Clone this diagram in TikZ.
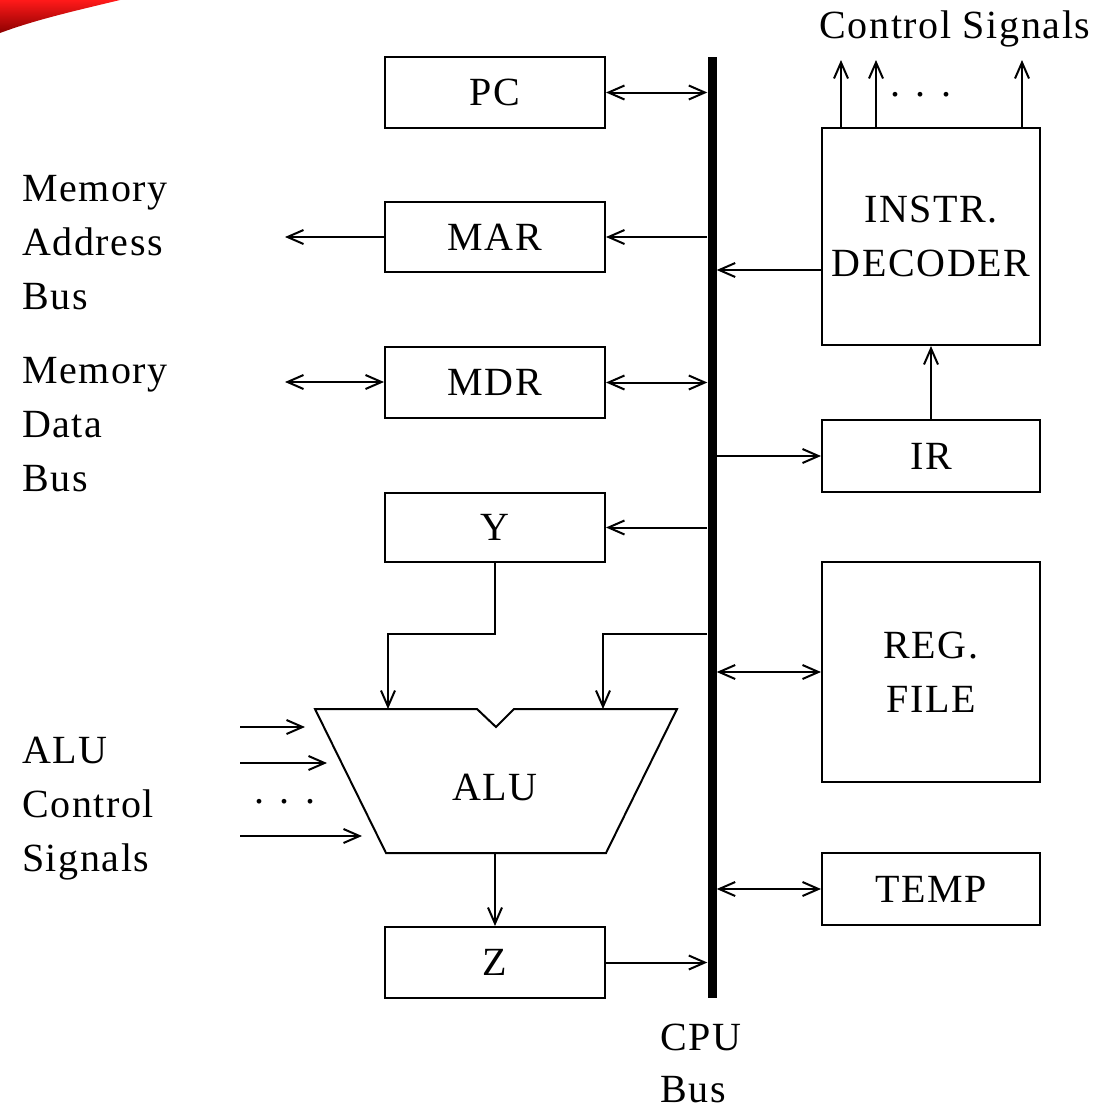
\documentclass[tikz,border=0pt]{standalone}
\usepackage{fontspec}
\setmainfont{Liberation Serif}[LetterSpace=4]
\usetikzlibrary{arrows.meta}
\begin{document}
\begin{tikzpicture}[x=1pt,y=-1pt,
  txt/.style={font=\fontsize{40}{54}\selectfont, inner sep=0pt},
  box/.style={draw, line width=2pt, minimum width=220pt, inner sep=0pt, font=\fontsize{40}{54}\selectfont, align=center},
  con/.style={line width=2pt},
  arr/.style={con, -{Straight Barb[length=16pt,width=14pt,line width=2pt]}},
  dbl/.style={con, {Straight Barb[length=16pt,width=14pt,line width=2pt]}-{Straight Barb[length=16pt,width=14pt,line width=2pt]}}]
\useasboundingbox (0,0) rectangle (1097,1112);
% slide decoration
\shade[top color=red!90!white, bottom color=red!55!black] (0,0) -- (120,0) .. controls (70,12) and (35,20) .. (0,33) -- cycle;
% bus
\node[fill=black, minimum width=9pt, minimum height=941pt, inner sep=0pt] (bus) at (712,527.5) {};
% left boxes
\node[box, minimum height=71pt] (pc)  at (495,92.5) {PC};
\node[box, minimum height=70pt] (mar) at (495,237) {MAR};
\node[box, minimum height=71pt] (mdr) at (495,382.5) {MDR};
\node[box, minimum height=69pt] (y)   at (495,527.5) {Y};
\node[box, minimum height=71pt] (z)   at (495,962.5) {Z};
% right boxes
\node[box, minimum width=218pt, minimum height=217pt] (dec) at (931,236.5) {INSTR.\\DECODER};
\node[box, minimum width=218pt, minimum height=72pt] (ir) at (931,456) {IR};
\node[box, minimum width=218pt, minimum height=220pt] (reg) at (931,672) {REG.\\FILE};
\node[box, minimum width=218pt, minimum height=72pt] (temp) at (931,889) {TEMP};
% ALU
\coordinate (atl) at (315,709);
\coordinate (atr) at (677,709);
\coordinate (abl) at (386,853);
\coordinate (abr) at (606,853);
\coordinate (nl) at (477,709);
\coordinate (nb) at (496,727);
\coordinate (nr) at (514,709);
\draw[line width=2pt, line join=miter] (atl) -- (nl) -- (nb) -- (nr) -- (atr) -- (abr) -- (abl) -- cycle;
\node[txt] (alu) at (495,787) {ALU};
\coordinate (ain1) at (388,709);
\coordinate (ain2) at (603,709);
\coordinate (aout) at (495,853);
% labels
\node[txt, anchor=base west] (l1) at (22,201) {Memory};
\node[txt, anchor=base west] (l2) at (22,255) {Address};
\node[txt, anchor=base west] (l3) at (22,309) {Bus};
\node[txt, anchor=base west] (l4) at (22,383) {Memory};
\node[txt, anchor=base west] (l5) at (22,437) {Data};
\node[txt, anchor=base west] (l6) at (22,491) {Bus};
\node[txt, anchor=base west] (l7) at (22,763) {ALU};
\node[txt, anchor=base west] (l8) at (22,817) {Control};
\node[txt, anchor=base west] (l9) at (22,871) {Signals};
\node[txt, anchor=base west] (cpu) at (660,1050) {CPU};
\node[txt, anchor=base west] (cpub) at (660,1102) {Bus};
\node[txt, anchor=base] (cs) at (955,38) {Control Signals};
\node[txt, anchor=base] (d1) at (921,96) {. . .};
\node[txt, anchor=base] (d2) at (285,803) {. . .};
% connectors to bus
\draw[dbl] (pc.east) -- (bus.west |- pc.east);
\draw[arr] (bus.west |- mar.east) -- (mar.east);
\coordinate (mab) at (285,237);
\draw[arr] (mar.west) -- (mab);
\draw[dbl] (mdr.east) -- (bus.west |- mdr.east);
\coordinate (mdb) at (285,382);
\draw[dbl] (mdb) -- (mdr.west |- mdb);
\draw[arr] (bus.west |- y.east) -- (y.east);
\draw[arr] (z.east) -- (bus.west |- z.east);
\draw[arr] (bus.east |- ir.west) -- (ir.west);
\draw[arr] (ir.north) -- (ir.north |- dec.south);
\draw[arr] (dec.west |- 0,270) -- (bus.east |- 0,270);
\draw[dbl] (bus.east |- reg.west) -- (reg.west);
\draw[dbl] (bus.east |- temp.west) -- (temp.west);
% Y and bus into ALU
\draw[arr] (y.south) -- (y.south |- 0,634) -| (ain1);
\draw[arr] (bus.west |- 0,634) -| (ain2);
\draw[arr] (aout) -- (aout |- z.north);
% control signals
\coordinate (o1) at (841,60);
\coordinate (o2) at (876,60);
\coordinate (o3) at (1022,60);
\draw[arr] (o1 |- dec.north) -- (o1);
\draw[arr] (o2 |- dec.north) -- (o2);
\draw[arr] (o3 |- dec.north) -- (o3);
% ALU control inputs
\coordinate (c1a) at (240,727); \coordinate (c1b) at (305,727);
\coordinate (c2a) at (240,763); \coordinate (c2b) at (327,763);
\coordinate (c3a) at (240,836); \coordinate (c3b) at (362,836);
\draw[arr] (c1a) -- (c1b);
\draw[arr] (c2a) -- (c2b);
\draw[arr] (c3a) -- (c3b);
\end{tikzpicture}
\end{document}
